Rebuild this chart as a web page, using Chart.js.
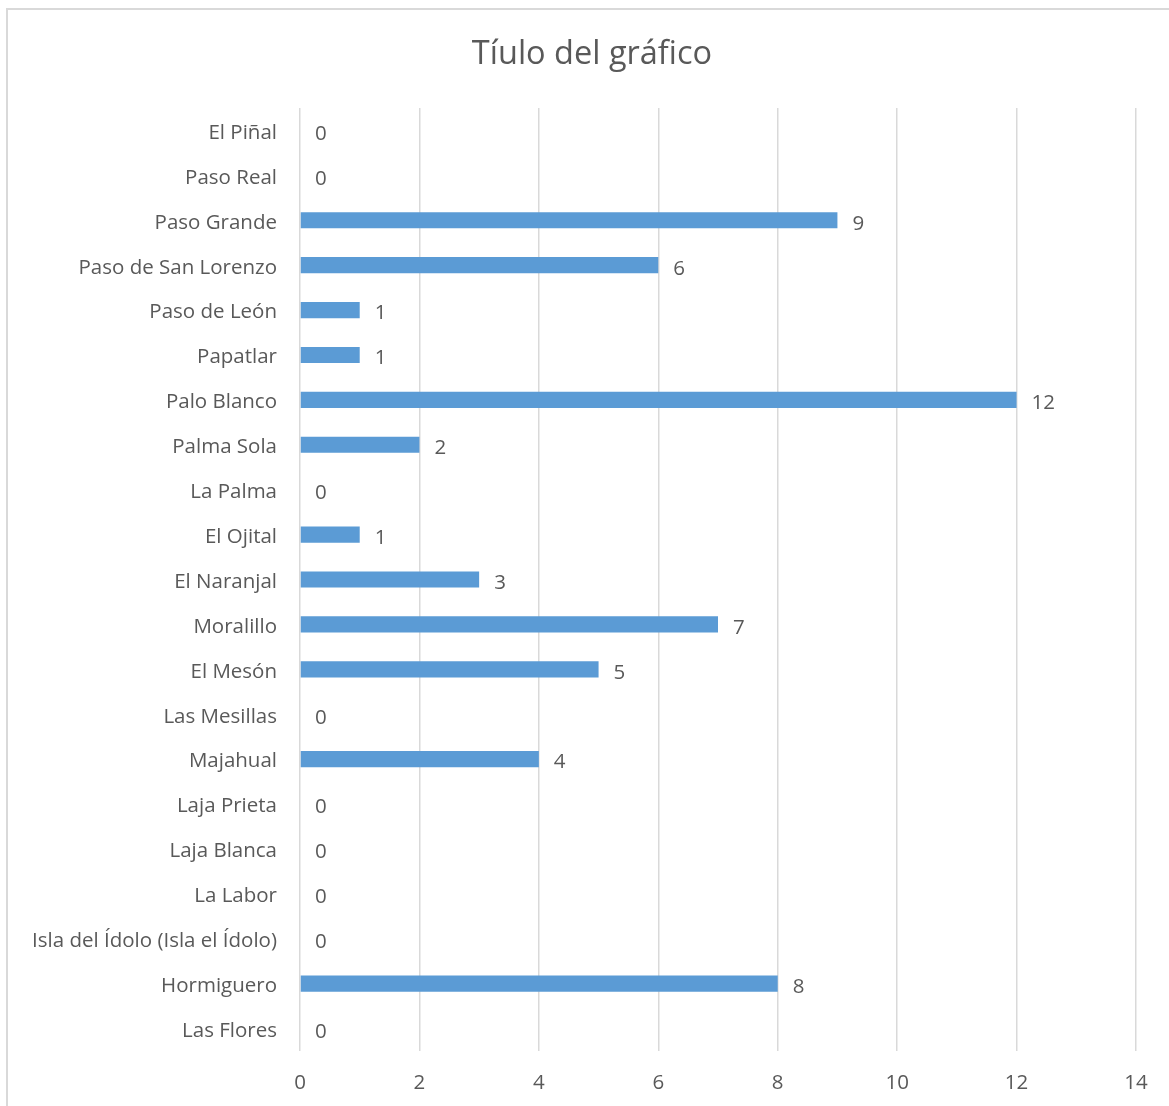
<!DOCTYPE html>
<html>
<head>
<meta charset="utf-8">
<script src="https://cdn.jsdelivr.net/npm/chart.js@4/dist/chart.umd.min.js"></script>
<style>
  html, body { margin: 0; padding: 0; background: #fff; }
  #wrap { width: 1169px; height: 1106px; }
</style>
</head>
<body>
<div id="wrap"><canvas id="chart" width="1169" height="1106"></canvas></div>
<script>
// datos (de arriba hacia abajo)
const categories = [
  'El Piñal', 'Paso Real', 'Paso Grande', 'Paso de San Lorenzo', 'Paso de León',
  'Papatlar', 'Palo Blanco', 'Palma Sola', 'La Palma', 'El Ojital', 'El Naranjal',
  'Moralillo', 'El Mesón', 'Las Mesillas', 'Majahual', 'Laja Prieta', 'Laja Blanca',
  'La Labor', 'Isla del Ídolo (Isla el Ídolo)', 'Hormiguero', 'Las Flores'
];
const values = [0, 0, 9, 6, 1, 1, 12, 2, 0, 1, 3, 7, 5, 0, 4, 0, 0, 0, 0, 8, 0];
const xTicks = [0, 2, 4, 6, 8, 10, 12, 14];
const chartTitle = 'Tíulo del gráfico';

const textColor = '#595959';
const fontFamily = '"Open Sans", Lato, sans-serif';
const labelSize = 20.5;

// marco exterior gris + título (el título en Excel no queda centrado en el lienzo)
const framePlugin = {
  id: 'frame',
  beforeDraw(chart) {
    const ctx = chart.ctx;
    ctx.save();
    ctx.strokeStyle = '#d9d9d9';
    ctx.lineWidth = 2;
    ctx.strokeRect(7, 9, 1300, 1300);
    ctx.fillStyle = textColor;
    ctx.font = '32.5px ' + fontFamily;
    ctx.textAlign = 'center';
    ctx.textBaseline = 'middle';
    ctx.fillText(chartTitle, 592, 55);
    ctx.restore();
  }
};

// etiquetas de valor al final de cada barra
const valueLabels = {
  id: 'valueLabels',
  afterDatasetsDraw(chart) {
    const ctx = chart.ctx;
    const meta = chart.getDatasetMeta(0);
    ctx.save();
    ctx.fillStyle = textColor;
    ctx.font = labelSize + 'px ' + fontFamily;
    ctx.textAlign = 'left';
    ctx.textBaseline = 'middle';
    meta.data.forEach((bar, i) => {
      ctx.fillText(String(values[i]), bar.x + 15, bar.y + 3.5);
    });
    ctx.restore();
  }
};

new Chart(document.getElementById('chart'), {
  type: 'bar',
  data: {
    labels: categories,
    datasets: [{
      data: values,
      backgroundColor: '#5b9bd5',
      borderWidth: 0,
      categoryPercentage: 1,
      barPercentage: 0.36
    }]
  },
  options: {
    indexAxis: 'y',
    responsive: false,
    animation: false,
    layout: { padding: { left: 0, right: 33, top: 108, bottom: 0 } },
    plugins: {
      legend: { display: false },
      tooltip: { enabled: false },
      title: { display: false }
    },
    scales: {
      x: {
        min: 0,
        max: 14,
        afterBuildTicks(scale) {
          scale.ticks = xTicks.map(v => ({ value: v }));
        },
        afterFit(scale) { scale.height = 55; },
        grid: { color: '#d9d9d9', lineWidth: 1.5, drawTicks: false },
        border: { display: false },
        ticks: {
          color: textColor,
          font: { family: fontFamily, size: labelSize },
          padding: 20
        }
      },
      y: {
        afterFit(scale) { scale.width = 300; },
        grid: { display: false, drawTicks: false },
        border: { display: false },
        ticks: {
          color: textColor,
          font: { family: fontFamily, size: labelSize },
          padding: 23,
          labelOffset: 2.5,
          autoSkip: false
        }
      }
    }
  },
  plugins: [framePlugin, valueLabels]
});
</script>
</body>
</html>
